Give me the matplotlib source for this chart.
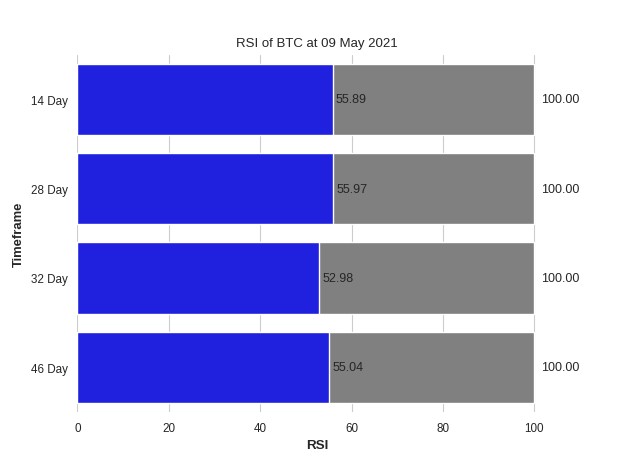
import matplotlib
matplotlib.use("Agg")
import matplotlib.pyplot as plt
import seaborn as sns

# RSI values per timeframe
timeframes = ["14 Day", "28 Day", "32 Day", "46 Day"]
rsi_values = [55.89, 55.97, 52.98, 55.04]
max_values = [100.0, 100.0, 100.0, 100.0]


def plot_rsi():
    sns.set_style("whitegrid")
    plt.rcParams['font.family'] = ['Liberation Sans', 'DejaVu Sans']

    fig, ax = plt.subplots(figsize=(6.19, 4.64), dpi=100)

    # full scale bar in grey, current RSI on top in blue
    sns.barplot(x=max_values, y=timeframes, color="grey", ax=ax)
    sns.barplot(x=rsi_values, y=timeframes, color="blue", ax=ax)

    for i, (v, m) in enumerate(zip(rsi_values, max_values)):
        ax.text(v + 0.7, i, f"{v:.2f}", va="center", ha="left",
                fontsize=9, color="#262626")
        ax.text(m + 1.4, i, f"{m:.2f}", va="center", ha="left",
                fontsize=9, color="#262626")

    ax.set_xlim(0, 105)
    ax.set_xticks([0, 20, 40, 60, 80, 100])
    ax.tick_params(labelsize=8.4, colors="#262626")
    ax.set_title("RSI of BTC at 09 May 2021", fontsize=9.5, color="#262626")
    ax.set_xlabel("RSI", fontsize=9.6, fontweight="bold")
    ax.set_ylabel("Timeframe", fontsize=9.4, fontweight="bold")
    sns.despine(left=True, bottom=True)

    fig.savefig("out.png", dpi=100)


if __name__ == "__main__":
    plot_rsi()
